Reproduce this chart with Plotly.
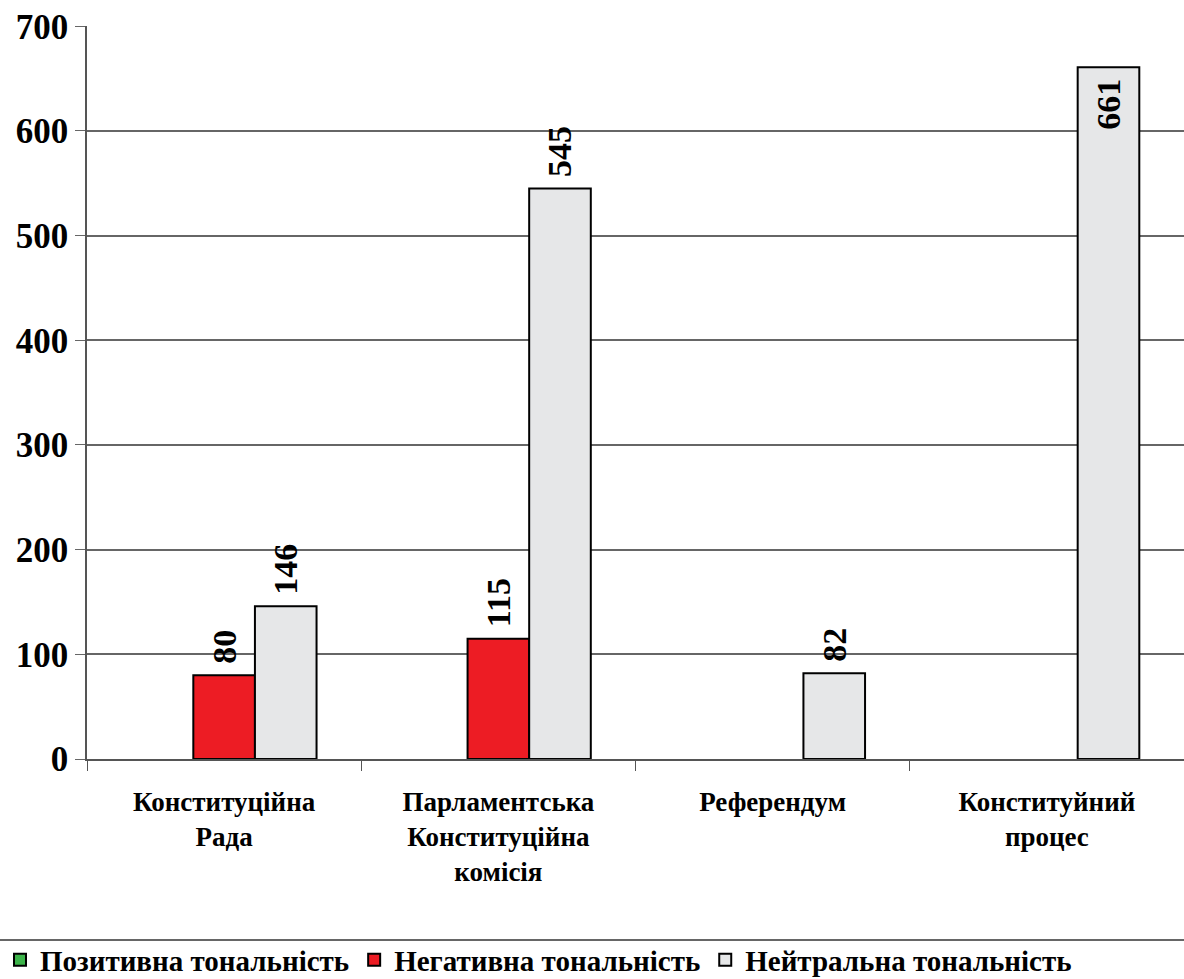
import plotly.graph_objects as go

categories = ["Конституційна<br>Рада", "Парламентська<br>Конституційна<br>комісія", "Референдум", "Конституйний<br>процес"]
series_names = ["Позитивна тональність", "Негативна тональність", "Нейтральна тональність"]
positive = [None, None, None, None]
negative = [80, 115, None, None]
neutral = [146, 545, 82, 661]
y_ticks = [0, 100, 200, 300, 400, 500, 600, 700]

FONT = "Liberation Serif"
colors = ["#3cb44a", "#ed1c24", "#e6e7e8"]

W, H = 1184, 979

fig = go.Figure()
for name, vals, col in zip(series_names, [positive, negative, neutral], colors):
    pos = ["inside" if (v is not None and v > 600) else "outside" for v in vals]
    fig.add_trace(go.Bar(
        x=categories, y=vals, name=name,
        marker=dict(color=col, line=dict(color="black", width=2)),
        text=[("" if v is None else " " + str(v) + " ") for v in vals],
        textposition=pos, textangle=-90, insidetextanchor="end",
        textfont=dict(family=FONT, size=34, color="black", weight="bold"),
        cliponaxis=False, constraintext="none",
    ))

fig.update_layout(
    width=W, height=H,
    margin=dict(l=87, r=0, t=26, b=220),
    paper_bgcolor="white", plot_bgcolor="white",
    barmode="group", bargap=0.326, bargroupgap=0,
    font=dict(family=FONT, color="black", weight="bold"),
    showlegend=True,
    legend=dict(orientation="h", xref="container", yref="container", x=0.0, xanchor="left",
                y=0.0194, yanchor="middle", bgcolor="rgba(0,0,0,0)",
                font=dict(family=FONT, size=29, weight="bold"), itemwidth=30,
                traceorder="normal"),
    xaxis=dict(showline=True, linecolor="#555", linewidth=1.5, ticks="outside",
               tickson="boundaries", ticklen=10, tickcolor="#555", automargin=False,
               ticklabelstandoff=18,
               tickfont=dict(family=FONT, size=27, weight="bold")),
    yaxis=dict(range=[0, 700.3], tickvals=y_ticks, showgrid=True, gridcolor="#666", gridwidth=1.5,
               showline=True, linecolor="#555", linewidth=1.5, ticks="outside", ticklen=10,
               tickcolor="#666", zeroline=False, automargin=False, ticklabeloverflow="allow",
               tickfont=dict(family=FONT, size=35, weight="bold")),
    shapes=[dict(type="line", xref="paper", yref="paper", x0=-0.08, x1=1.0,
                 y0=-0.247, y1=-0.247, layer="above", line=dict(color="#666", width=2))],
)

fig.write_html("out.html", config={"displayModeBar": False},
               post_script="document.body.style.margin='0px';")
